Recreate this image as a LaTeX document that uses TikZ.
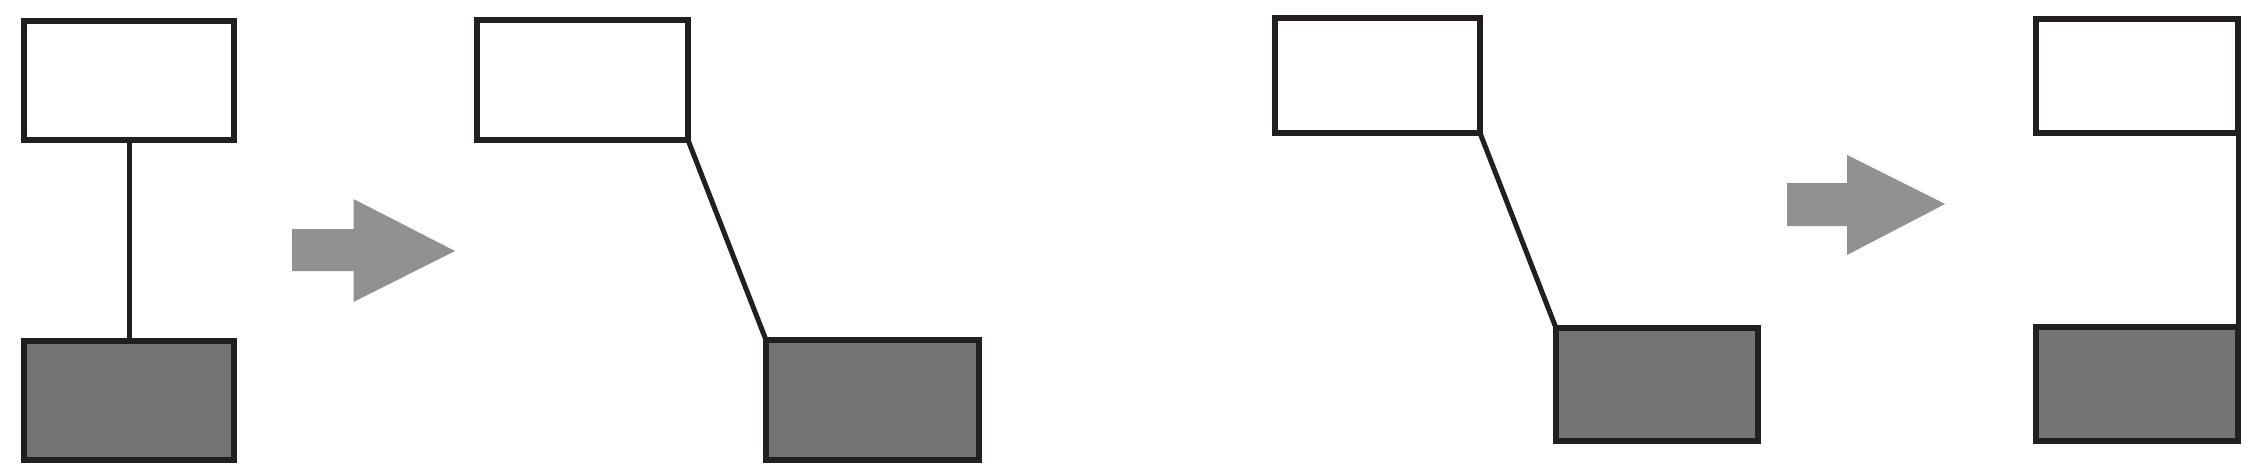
\documentclass[tikz,border=0pt]{standalone}
\definecolor{edge}{HTML}{231F20}
\definecolor{boxgray}{HTML}{757374}
\definecolor{arrowgray}{HTML}{929091}
\begin{document}
\begin{tikzpicture}[x=1pt,y=-1pt,
  wbox/.style={rectangle, draw=edge, fill=white, line width=6pt, inner sep=0pt, outer sep=0pt},
  gbox/.style={rectangle, draw=edge, fill=boxgray, line width=6pt, inner sep=0pt, outer sep=0pt},
  link/.style={draw=edge, line width=5pt},
  bigarrow/.style={fill=arrowgray, draw=none}]
\useasboundingbox (0,0) rectangle (2260,471);
% group 1
\node[wbox, minimum width=210pt, minimum height=119pt] (b1) at (129,80.5) {};
\node[gbox, minimum width=210pt, minimum height=119pt] (g1) at (129,400.5) {};
\draw[link] (b1.south) -- (g1.north);
% arrow 1
\fill[bigarrow] (292,229) -- (353.5,229) -- (353.5,199) -- (455,251) -- (353.5,302) -- (353.5,271) -- (292,271) -- cycle;
% group 2
\node[wbox, minimum width=211pt, minimum height=120pt] (b2) at (582.5,80) {};
\node[gbox, minimum width=213pt, minimum height=120pt] (g2) at (872.5,400) {};
\draw[link] (b2.south east) -- (g2.north west);
% group 3
\node[wbox, minimum width=205pt, minimum height=115pt] (b3) at (1377.5,75.5) {};
\node[gbox, minimum width=202pt, minimum height=113pt] (g3) at (1657,384.5) {};
\draw[link] (b3.south east) -- (g3.north west);
% arrow 2
\fill[bigarrow] (1787,183) -- (1847,183) -- (1847,155) -- (1945,204) -- (1847,255) -- (1847,226) -- (1787,226) -- cycle;
% group 4
\node[wbox, minimum width=202pt, minimum height=114pt] (b4) at (2137,76) {};
\node[gbox, minimum width=202pt, minimum height=114pt] (g4) at (2137,384) {};
\draw[link] (b4.south east) -- (g4.north east);
\end{tikzpicture}
\end{document}
